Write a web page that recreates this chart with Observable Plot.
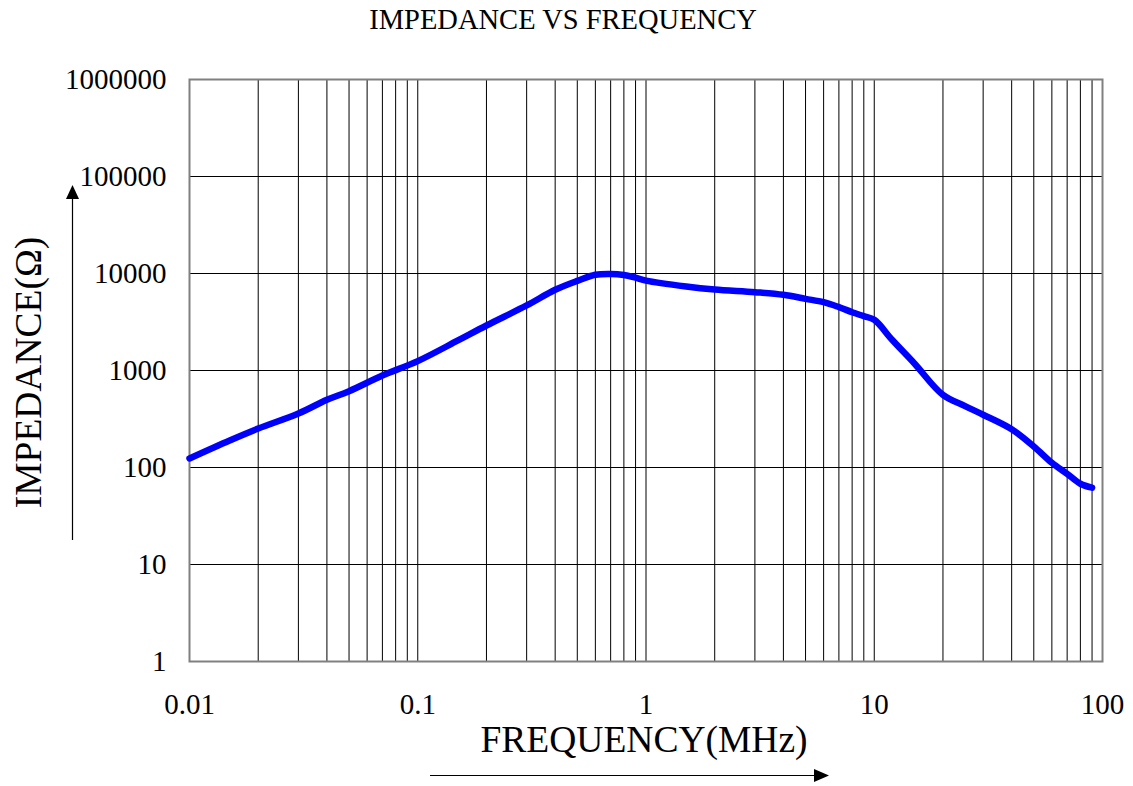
<!DOCTYPE html>
<html>
<head>
<meta charset="utf-8">
<script src="https://cdn.jsdelivr.net/npm/d3@7"></script>
<script src="https://cdn.jsdelivr.net/npm/@observablehq/plot@0.6"></script>
<style>
  html, body { margin: 0; padding: 0; background: #fff; }
  #chart svg { display: block; }
</style>
</head>
<body>
<div id="chart"></div>
<script>
// ---- data ----
const chartTitle = "IMPEDANCE VS FREQUENCY";
const xLabel = "FREQUENCY(MHz)";
const yLabel = "IMPEDANCE(Ω)";

const frequencyMHz = [0.01, 0.015, 0.02, 0.03, 0.04, 0.05, 0.07, 0.1, 0.15, 0.2, 0.3, 0.4, 0.5, 0.6, 0.7, 0.8, 0.9, 1, 1.5, 2, 3, 4, 5, 6, 7, 8, 9, 10, 12, 15, 20, 25, 30, 40, 50, 60, 70, 80, 90];
const impedanceOhm = [124, 190, 252, 360, 499, 612, 888, 1250, 2040, 2910, 4680, 6800, 8400, 9700, 9900, 9650, 9050, 8450, 7350, 6840, 6420, 6030, 5480, 5060, 4500, 3990, 3630, 3330, 2060, 1180, 560, 430, 350, 248, 165, 112, 86, 68, 62];

const xTickValues = [0.01, 0.1, 1, 10, 100];
const yTickValues = [1, 10, 100, 1000, 10000, 100000, 1000000];
const xGridValues = [
  0.01, 0.02, 0.03, 0.04, 0.05, 0.06, 0.07, 0.08, 0.09,
  0.1, 0.2, 0.3, 0.4, 0.5, 0.6, 0.7, 0.8, 0.9,
  1, 2, 3, 4, 5, 6, 7, 8, 9,
  10, 20, 30, 40, 50, 60, 70, 80, 90, 100
];

const data = frequencyMHz.map((f, i) => ({ f, z: impedanceOhm[i] }));

const W = 1133, H = 786;
const font = "'Liberation Serif', 'Times New Roman', serif";

const plot = Plot.plot({
  width: W,
  height: H,
  marginLeft: 189,
  marginRight: 31,
  marginTop: 79,
  marginBottom: 125,
  style: { fontFamily: font, background: "#fff", color: "#000" },
  x: { type: "log", domain: [0.01, 100] },
  y: { type: "log", domain: [1, 1000000] },
  marks: [
    Plot.ruleX(xGridValues, { stroke: "#000", strokeWidth: 1 }),
    Plot.ruleY(yTickValues, { stroke: "#000", strokeWidth: 1 }),
    Plot.frame({ stroke: "#808080", strokeWidth: 2 }),
    Plot.axisX({ ticks: xTickValues, tickFormat: d => String(d), tickSize: 0, tickPadding: 32, fontSize: 29, label: null, fill: "#000" }),
    Plot.axisY({ ticks: yTickValues, tickFormat: d => String(d), tickSize: 0, tickPadding: 23, fontSize: 29, label: null, fill: "#000" }),
    Plot.line(data, { x: "f", y: "z", stroke: "#0000ff", strokeWidth: 6.5, curve: "catmull-rom", strokeLinecap: "round", strokeLinejoin: "round" }),
    Plot.text([chartTitle], { frameAnchor: "top", dx: -83, dy: -60, textAnchor: "middle", lineAnchor: "middle", fontSize: 28.5, fill: "#000" }),
    Plot.text([xLabel], { frameAnchor: "bottom", dx: -2, dy: 78, textAnchor: "middle", lineAnchor: "middle", fontSize: 37.5, fill: "#000" }),
    Plot.text([yLabel], { frameAnchor: "left", dx: -161, dy: 2, rotate: -90, textAnchor: "middle", lineAnchor: "middle", fontSize: 37.5, fill: "#000" })
  ]
});

document.getElementById("chart").appendChild(plot);

// decorative direction arrows
const svg = d3.select(plot);
const g = svg.append("g").attr("class", "arrows");
// vertical arrow (y direction)
g.append("line").attr("x1", 72.5).attr("x2", 72.5).attr("y1", 540).attr("y2", 196).attr("stroke", "#000").attr("stroke-width", 1.2);
g.append("path").attr("d", "M72.5,185 L66,199 L79,199 Z").attr("fill", "#000");
// horizontal arrow (x direction)
g.append("line").attr("x1", 430).attr("x2", 815).attr("y1", 775.5).attr("y2", 775.5).attr("stroke", "#000").attr("stroke-width", 1.2);
g.append("path").attr("d", "M829,775.5 L814,769 L814,782 Z").attr("fill", "#000");
</script>
</body>
</html>
